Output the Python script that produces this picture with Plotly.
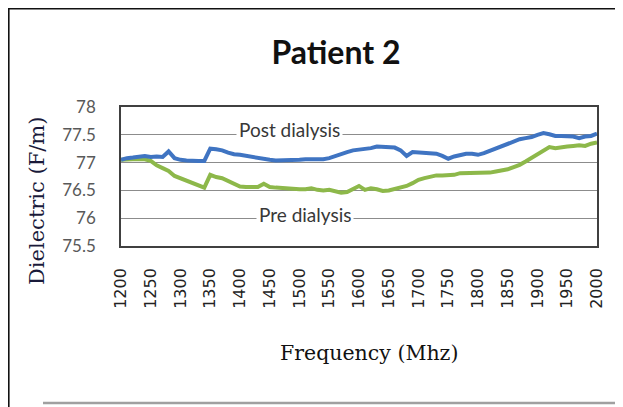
import plotly.graph_objects as go

freq = list(range(1200, 2001, 10))

post_dialysis = [
    77.05, 77.08, 77.09, 77.10, 77.12, 77.10, 77.11, 77.10, 77.20, 77.08,
    77.05, 77.04, 77.03, 77.03, 77.03, 77.25, 77.24, 77.22, 77.18, 77.15,
    77.14, 77.12, 77.10, 77.09, 77.06, 77.05, 77.04, 77.04, 77.04, 77.04,
    77.05, 77.06, 77.06, 77.06, 77.06, 77.08, 77.12, 77.15, 77.19, 77.22,
    77.23, 77.25, 77.26, 77.29, 77.28, 77.28, 77.27, 77.22, 77.12, 77.19,
    77.18, 77.17, 77.17, 77.16, 77.12, 77.07, 77.11, 77.14, 77.16, 77.16,
    77.14, 77.17, 77.21, 77.25, 77.30, 77.34, 77.38, 77.42, 77.44, 77.46,
    77.50, 77.53, 77.51, 77.48, 77.48, 77.47, 77.47, 77.44, 77.47, 77.48,
    77.52,
]

pre_dialysis = [
    77.05, 77.06, 77.06, 77.06, 77.06, 77.03, 76.95, 76.90, 76.85, 76.76,
    76.72, 76.68, 76.63, 76.59, 76.55, 76.78, 76.74, 76.72, 76.67, 76.61,
    76.57, 76.56, 76.56, 76.56, 76.62, 76.56, 76.55, 76.54, 76.53, 76.52,
    76.52, 76.52, 76.54, 76.51, 76.50, 76.51, 76.48, 76.46, 76.47, 76.52,
    76.58, 76.51, 76.54, 76.52, 76.49, 76.50, 76.53, 76.55, 76.58, 76.63,
    76.69, 76.72, 76.75, 76.77, 76.77, 76.77, 76.78, 76.81, 76.81, 76.81,
    76.81, 76.81, 76.82, 76.84, 76.86, 76.88, 76.92, 76.96, 77.02, 77.08,
    77.14, 77.22, 77.28, 77.26, 77.28, 77.29, 77.30, 77.31, 77.30, 77.34,
    77.36,
]

x_ticks = list(range(1200, 2001, 50))
y_ticks = [75.5, 76, 76.5, 77, 77.5, 78]
y_tick_text = ["75.5", "76", "76.5", "77", "77.5", "78"]

fig = go.Figure()
fig.add_trace(go.Scatter(x=freq, y=pre_dialysis, mode="lines", name="Pre dialysis",
                         line=dict(color="#8DB84A", width=4)))
fig.add_trace(go.Scatter(x=freq, y=post_dialysis, mode="lines", name="Post dialysis",
                         line=dict(color="#3F74C2", width=4)))

# page body has an 8px margin, so the figure is drawn offset by 8px
OFF = 8
W, H = 623 - OFF, 407 - OFF
L, R, T, B = 121 - OFF, 597 - OFF, 107 - OFF, 246 - OFF
def px(x):
    return (x - OFF - L) / (R - L)
def py(y):
    return (B - (y - OFF)) / (B - T)

shapes = [
    dict(type="line", xref="paper", yref="paper", x0=px(8), x1=px(623), y0=py(8.8), y1=py(8.8),
         line=dict(color="#111111", width=1.6)),
    dict(type="line", xref="paper", yref="paper", x0=px(8.8), x1=px(8.8), y0=py(8), y1=py(407),
         line=dict(color="#111111", width=1.6)),
    dict(type="line", xref="paper", yref="paper", x0=px(43), x1=px(623), y0=py(403), y1=py(403),
         line=dict(color="#a0a0a0", width=2.5)),
]

fig.update_layout(
    width=W, height=H,
    margin=dict(l=L, r=W - R, t=T, b=H - B, autoexpand=False),
    paper_bgcolor="white", plot_bgcolor="white",
    showlegend=False,
    title=dict(text="<b>Patient 2</b>", x=(336 - OFF) / W, xanchor="center", y=1 - (53 - OFF) / H,
               yanchor="middle", font=dict(family="Lato", size=32, color="#111111")),
    xaxis=dict(range=[1200, 2000], tickmode="array", tickvals=x_ticks, ticktext=[str(v) for v in x_ticks],
               tickangle=-90, tickfont=dict(family="DejaVu Sans", size=16, color="#222222"),
               ticks="outside", ticklen=14, tickcolor="rgba(0,0,0,0)",
               showgrid=False, zeroline=False, showline=True, linecolor="#404040", linewidth=1.5,
               mirror=True),
    yaxis=dict(range=[75.5, 78], tickmode="array", tickvals=y_ticks, ticktext=y_tick_text,
               tickfont=dict(family="Lato", size=17, color="#595959"),
               ticks="outside", ticklen=20, tickcolor="rgba(0,0,0,0)",
               showgrid=True, gridcolor="#8c8c8c", gridwidth=1, zeroline=False,
               showline=True, linecolor="#404040", linewidth=1.5, mirror=True),
    shapes=shapes,
    annotations=[
        dict(x=1484, y=77.6, xref="x", yref="y", text="Post dialysis", showarrow=False,
             font=dict(family="Lato", size=19, color="#383838"), bgcolor="white", borderpad=2),
        dict(x=1509, y=76.06, xref="x", yref="y", text="Pre dialysis", showarrow=False,
             font=dict(family="Lato", size=19, color="#383838"), bgcolor="white", borderpad=2),
        dict(x=px(369), y=py(353), xref="paper", yref="paper", text="Frequency (Mhz)",
             showarrow=False, xanchor="center", yanchor="middle",
             font=dict(family="DejaVu Serif", size=20.5, color="#111111")),
        dict(x=px(37), y=py(201), xref="paper", yref="paper", text="Dielectric (F/m)",
             showarrow=False, textangle=-90, xanchor="center", yanchor="middle",
             font=dict(family="DejaVu Serif", size=21, color="#1a1a3a")),
    ],
)

fig.write_html("out.html")
